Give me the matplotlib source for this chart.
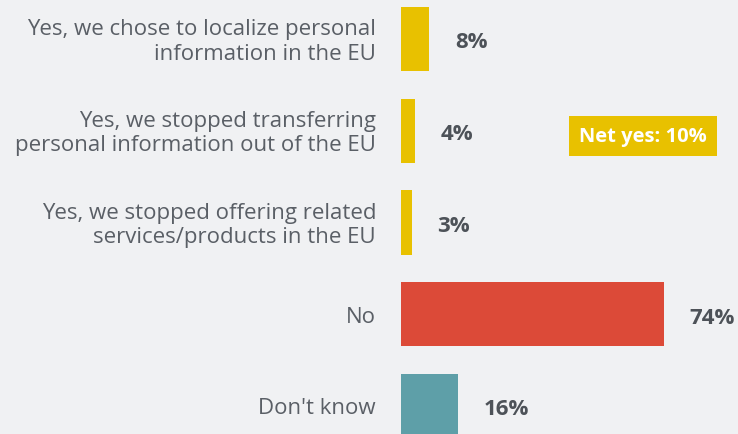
import matplotlib.pyplot as plt

# survey answers, top to bottom
answers = [
    "Yes, we chose to localize personal\ninformation in the EU",
    "Yes, we stopped transferring\npersonal information out of the EU",
    "Yes, we stopped offering related\nservices/products in the EU",
    "No",
    "Don't know",
]
shares = [8, 4, 3, 74, 16]
colors = ["#E8C100", "#E8C100", "#E8C100", "#DC4A38", "#5E9FA8"]
net_yes = 10

bg = "#F0F1F3"
plt.rcParams['font.family'] = ['Open Sans', 'DejaVu Sans']

fig = plt.figure(figsize=(7.38, 4.35), dpi=100, facecolor=bg)
ax = fig.add_axes([0, 0, 1, 1])
ax.set_facecolor(bg)

ypos = list(range(len(answers)))
ax.barh(ypos, shares, height=0.7, color=colors)

for y, txt, v in zip(ypos, answers, shares):
    ax.text(-7, y + 0.02, txt, ha='right', va='center', fontsize=16,
            color="#5A5F66", linespacing=1.22)
    ax.text(v + 7.2, y + 0.03, f"{v}%", ha='left', va='center', fontsize=16,
            fontweight='bold', color="#4D5258")

ax.text(68.1, 1.06, f"Net yes: {net_yes}%", ha='center', va='center',
        fontsize=14.5, fontweight='bold', color='white',
        bbox=dict(boxstyle='square,pad=0.5', fc="#E8C100", ec='none'))

ax.set_xlim(-112.8, 94.8)
ax.set_ylim(4.305, -0.436)
ax.axis('off')

fig.savefig("out.png", dpi=100, facecolor=bg)
